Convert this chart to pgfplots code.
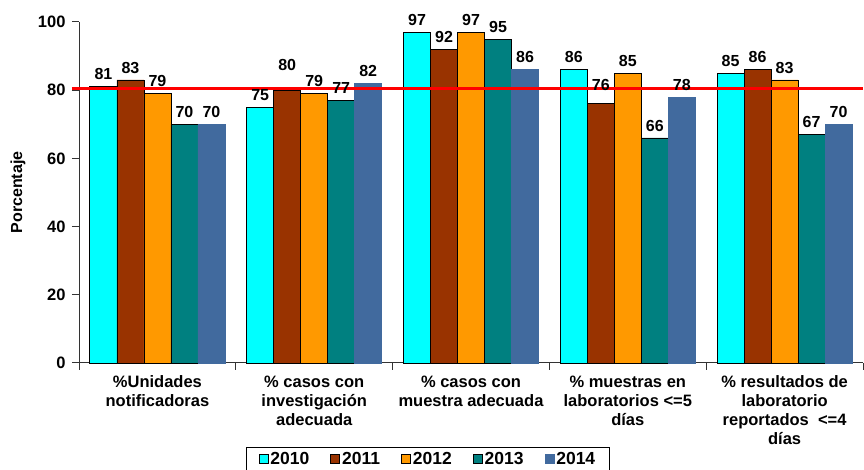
\documentclass[border=0pt]{standalone}
\usepackage{pgfplots}
\pgfplotsset{compat=1.18}
\usepackage{pgfplotstable}
\usepackage{fontspec}
\setmainfont{Liberation Sans}
\definecolor{c10}{RGB}{0,255,255}
\definecolor{c11}{RGB}{153,51,0}
\definecolor{c12}{RGB}{255,153,0}
\definecolor{c13}{RGB}{0,128,128}
\definecolor{c14}{RGB}{65,106,158}
\pgfplotstableread{
g a b c d e oa ob oc od oe
0 81 83 79 70 70 0 0 0 0 0
1 75 80 79 77 82 0 13 0 0 0
2 97 92 97 95 86 0 0 0 0 0
3 86 76 85 66 78 0 6 0 0 0
4 85 86 83 67 70 0 0 0 0 0
}\data
\pgfplotsset{
  lbl/.style={nodes near coords,
    visualization depends on={\thisrow{#1} \as \off},
    every node near coord/.append style={font=\bfseries\fontsize{16}{16}\selectfont, text=black, yshift=3pt+\off pt}},
}
\begin{document}
\begin{tikzpicture}
\useasboundingbox (0,0) rectangle (864pt,470pt);
\begin{axis}[
  at={(79pt,107pt)}, anchor=south west,
  scale only axis, width=784pt, height=341pt,
  ybar=0pt, bar width=27pt,
  xmin=-0.5, xmax=4.5, ymin=0, ymax=100,
  axis x line*=bottom, axis y line*=left,
  axis line style={-, line width=1pt, black!80},
  clip=false,
  ytick={0,20,...,100},
  tick align=outside, major tick length=7pt,
  tick style={line width=1pt, black!80},
  xtick={0,...,4},
  xticklabels={{\%Unidades\\notificadoras},{\% casos con\\investigación\\adecuada},{\% casos con\\muestra adecuada},{\% muestras en\\laboratorios <=5\\días},{\% resultados de\\laboratorio\\reportados\ \ <=4\\días}},
  x tick style={draw=none},
  extra x ticks={-0.5,0.5,1.5,2.5,3.5,4.5},
  extra x tick labels={},
  extra x tick style={x tick style={draw=black!80}},
  xticklabel style={align=center, font=\bfseries\fontsize{16.5}{19}\selectfont, yshift=-2pt},
  yticklabel style={font=\bfseries\fontsize{16.5}{16.5}\selectfont, xshift=-3pt},
  /pgf/number format/assume math mode=true,
  ylabel={Porcentaje},
  every axis y label/.style={at={(axis description cs:0,0.5)}, xshift=-61pt, rotate=90, anchor=center, font=\bfseries\fontsize{16}{16}\selectfont},
  legend columns=5,
  legend style={draw=black, line width=0.8pt, at={(0.445,-0.2463)}, anchor=north,
    font=\bfseries\fontsize{17.5}{17.5}\selectfont, inner xsep=12pt, inner ysep=3pt,
    /tikz/every even column/.append style={column sep=19pt}},
  legend image code/.code={\draw[#1,/tikz/.cd] (0pt,-4.5pt) rectangle (9pt,4.5pt);},
]
\addplot[fill=c10, draw=black, line width=0.8pt, lbl=oa] table[x=g, y=a] {\data};
\addplot[fill=c11, draw=black, line width=0.8pt, lbl=ob] table[x=g, y=b] {\data};
\addplot[fill=c12, draw=black, line width=0.8pt, lbl=oc] table[x=g, y=c] {\data};
\addplot[fill=c13, draw=black, line width=0.8pt, lbl=od] table[x=g, y=d] {\data};
\addplot[fill=c14, draw=c14, line width=0.8pt, lbl=oe] table[x=g, y=e] {\data};
\legend{2010,2011,2012,2013,2014}
\addplot[sharp plot, red, line width=3pt, forget plot, mark=none] coordinates {(-0.545,80.5) (4.5,80.5)};
\end{axis}
\end{tikzpicture}
\end{document}
